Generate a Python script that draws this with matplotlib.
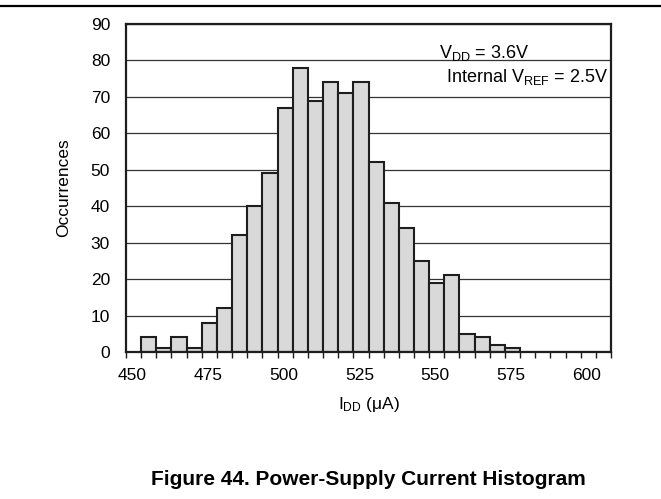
import numpy as np
import matplotlib
matplotlib.use("Agg")
import matplotlib.pyplot as plt
from matplotlib.lines import Line2D
from matplotlib.transforms import ScaledTranslation

# histogram bins (left edge, uA) and counts
bin_left = [450, 455, 460, 465, 470, 475, 480, 485, 490, 495,
            500, 505, 510, 515, 520, 525, 530, 535, 540, 545,
            550, 555, 560, 565, 570, 575, 580, 585, 590, 595, 600]
counts = [4, 1, 4, 1, 8, 12, 32, 40, 49, 67,
          78, 69, 74, 71, 74, 52, 41, 34, 25, 19,
          21, 5, 4, 2, 1, 0, 0, 0, 0, 0, 0]
bin_width = 5
x_labels = [450, 475, 500, 525, 550, 575, 600]
y_ticks = list(range(0, 91, 10))

plt.rcParams['font.family'] = ['Liberation Sans', 'DejaVu Sans']
plt.rcParams['mathtext.fontset'] = 'custom'
plt.rcParams['mathtext.rm'] = 'Liberation Sans'
plt.rcParams['mathtext.it'] = 'Liberation Sans:italic'
plt.rcParams['mathtext.bf'] = 'Liberation Sans:bold'

fig = plt.figure(figsize=(6.61, 4.99), dpi=100)
ax = fig.add_axes([126/661, 1 - 352/499, 485/661, 328/499])

ax.bar(bin_left, counts, width=bin_width, align='edge',
       color='#d9d9d9', edgecolor='#1e1e1e', linewidth=1.5)

ax.set_xlim(445, 605)
ax.set_ylim(0, 90)
ax.set_yticks(y_ticks)
ax.set_xticks(x_labels)
ax.set_xticks(np.arange(445, 606, bin_width), minor=True)
ax.tick_params(axis='x', which='both', direction='out', length=4, width=1,
               color='#1e1e1e', pad=7.5, labelsize=12.5)
ax.tick_params(axis='y', length=0, pad=11.5, labelsize=12.5)

# labels sit a little left of their ticks in the original
for lab in ax.get_xticklabels():
    lab.set_transform(lab.get_transform() + ScaledTranslation(-9/100, 0, fig.dpi_scale_trans))

ax.yaxis.grid(True, color='#333333', linewidth=0.9)
ax.set_axisbelow(True)
for s in ax.spines.values():
    s.set_linewidth(1.6)
    s.set_color('#1e1e1e')

ax.set_ylabel('Occurrences', fontsize=12.5, labelpad=14)
ax.set_xlabel(r'I$_{\mathrm{DD}}$ (μA)', fontsize=12.5, labelpad=9)

ax.text(0.645, 0.895, r'V$_{\mathrm{DD}}$ = 3.6V', transform=ax.transAxes,
        fontsize=13, va='baseline', ha='left')
ax.text(0.628, 0.823, r'   Internal V$_{\mathrm{REF}}$ = 2.5V', transform=ax.transAxes,
        fontsize=13, va='baseline', ha='left',
        bbox=dict(facecolor='white', edgecolor='none', pad=1))

fig.add_artist(Line2D([0, 1], [1 - 6/499, 1 - 6/499], transform=fig.transFigure,
                      color='black', linewidth=1.6))
fig.text(368/661, 1 - 485/499, 'Figure 44. Power-Supply Current Histogram',
         ha='center', va='baseline', fontsize=15, fontweight='bold')

fig.savefig('out.png', dpi=100)
